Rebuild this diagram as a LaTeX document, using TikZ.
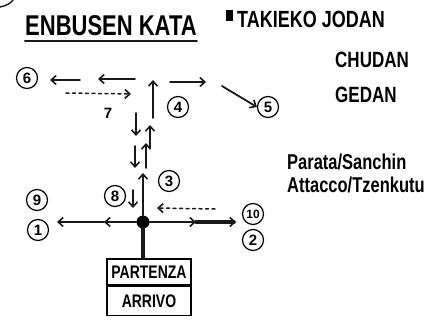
\documentclass[tikz,border=0pt]{standalone}
\usepackage{fontspec}
\usepackage{graphicx}
\setmainfont{Liberation Sans}
\usetikzlibrary{arrows.meta,calc}
\newcommand{\hw}[1]{\scalebox{1}[1.3]{#1}}
\begin{document}
\begin{tikzpicture}[x=1pt,y=-1pt,
  ink/.style={line width=1.8pt,line cap=round,black!90},
  arr/.style={ink,-{Straight Barb[length=5pt,width=9pt,line width=1.6pt]}},
  darr/.style={arr,line width=1.5pt,dash pattern=on 3pt off 3.5pt},
  num/.style={circle,draw,line width=1.2pt,inner sep=0pt,minimum size=21pt,font=\fontsize{15}{15}\selectfont\bfseries},
  hand/.style={inner sep=0pt,anchor=west,font=\bfseries},
  boxpart/.style={draw,line width=1.6pt,minimum width=84pt,inner sep=0pt,font=\fontsize{14}{14}\selectfont\bfseries}]
\useasboundingbox[fill=white] (0,0) rectangle (436,321);
% corner arc
\draw[ink,line width=1.4pt] (0,7) .. controls (6,6) and (11,3) .. (13,0);
% title
\node[hand,font=\fontsize{22}{22}\selectfont\bfseries] (title) at (25,26) {\hw{ENBUSEN KATA}};
\draw[ink,line width=2pt] ($(title.south west)+(0,5)$) -- ($(title.south east)+(0,5)$);
% right texts
\fill (226,10) rectangle (233,21);
\node[hand,font=\fontsize{18}{18}\selectfont\bfseries] (tak) at (237,19) {\hw{TAKIEKO JODAN}};
\node[hand,font=\fontsize{17}{17}\selectfont\bfseries] (chu) at (335,60) {\hw{CHUDAN}};
\node[hand,font=\fontsize{17}{17}\selectfont\bfseries] (ged) at (335,95) {\hw{GEDAN}};
\node[hand,font=\fontsize{16.5}{16.5}\selectfont\bfseries] (par) at (287,162) {\hw{Parata/Sanchin}};
\node[hand,font=\fontsize{16.5}{16.5}\selectfont\bfseries] (att) at (287,185) {\hw{Attacco/Tzenkutu}};
% numbered circles
\node[num] (c6) at (27,78) {6};
\node[num] (c4) at (178,107) {4};
\node[num] (c5) at (268,107) {5};
\node[num] (c9) at (37,200) {9};
\node[num] (c1) at (38,230) {1};
\node[num,font=\fontsize{12}{12}\selectfont\bfseries] (c10) at (253,214) {10};
\node[num] (c2) at (253,240) {2};
\node[num] (c8) at (115,196) {8};
\node[num] (c3) at (169,181) {3};
\node[font=\fontsize{15}{15}\selectfont\bfseries] (n7) at (108,113) {7};
% top arrows
\coordinate (a1s) at (80,80); \coordinate (a1e) at (50,80);
\coordinate (a2s) at (135,79); \coordinate (a2e) at (98,79);
\coordinate (d7s) at (66,93); \coordinate (d7e) at (131,94);
\coordinate (u4s) at (153,118); \coordinate (u4e) at (153,80);
\coordinate (r4s) at (170,82); \coordinate (r4e) at (206,82);
\coordinate (r5s) at (222,86);
\draw[arr] (a1s) -- (a1e);
\draw[arr] (a2s) -- (a2e);
\draw[darr] (d7s) -- (d7e);
\draw[arr] (u4s) -- (u4e);
\draw[arr] (r4s) -- (r4e);
\draw[arr] (r5s) -- (c5.west);
% vertical column
\coordinate (v1s) at (136,113); \coordinate (v1e) at (136,136);
\coordinate (v2s) at (150,148); \coordinate (v2e) at (150,125);
\coordinate (v3s) at (135,146); \coordinate (v3e) at (135,168);
\coordinate (v4s) at (146,168); \coordinate (v4e) at (146,143);
\coordinate (v5s) at (133,190); \coordinate (v5e) at (133,208);
\draw[arr] (v1s) -- (v1e);
\draw[arr] (v2s) -- (v2e);
\draw[arr] (v3s) -- (v3e);
\draw[arr] (v4s) -- (v4e);
\draw[arr] (v5s) -- (v5e);
% main line
\node[circle,fill=black,inner sep=0pt,minimum size=13pt] (dot) at (143,222) {};
\coordinate (up) at (143,173);
\coordinate (ml) at (104,222);
\coordinate (le) at (57,222);
\coordinate (mr) at (196,222);
\coordinate (re) at (236,222);
\draw[arr] (dot) -- (up);
\draw[arr,line width=2.4pt] (dot) -- (ml);
\draw[arr,line width=2.4pt] (ml) -- (le);
\draw[arr,line width=2.4pt] (dot) -- (mr);
\draw[arr,line width=3.2pt] (mr) -- (re);
\coordinate (d3s) at (215,209); \coordinate (d3e) at (157,208);
\draw[darr] (d3s) -- (d3e);
% box
\node[boxpart,minimum height=26pt,anchor=north] (part) at (149,258) {\hw{PARTENZA}};
\node[boxpart,minimum height=29pt,anchor=north] (arr2) at (part.south) {\hw{ARRIVO}};
\draw[ink,line width=3.4pt] (dot) -- (part.north -| dot);
\end{tikzpicture}
\end{document}
